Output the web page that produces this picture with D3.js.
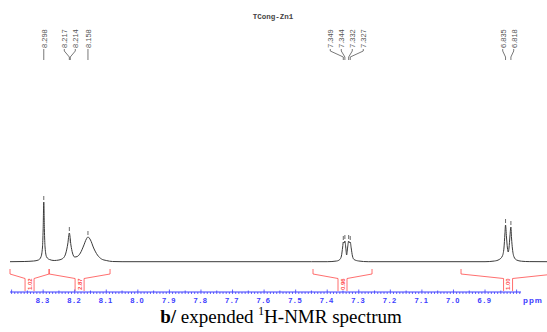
<!DOCTYPE html>
<html><head><meta charset="utf-8">
<script src="https://cdn.jsdelivr.net/npm/d3@7"></script>
<style>
html,body{margin:0;padding:0;background:#fff;}
svg{display:block;}
</style>
</head><body>
<svg id="c" width="547" height="332"></svg>
<script>
// ---------- data ----------
const title = "TCong-Zn1";
// spectrum trace (ppm, intensity)
const specPpm = [8.405,8.36,8.33,8.315,8.307,8.302,8.300,8.298,8.296,8.294,8.289,8.28,8.265,8.25,8.236,8.228,8.222,8.217,8.212,8.207,8.200,8.192,8.182,8.172,8.163,8.158,8.150,8.140,8.128,8.115,8.10,8.08,8.05,
  7.45,7.40,7.37,7.36,7.355,7.351,7.349,7.3465,7.344,7.341,7.3385,7.3355,7.332,7.3295,7.327,7.324,7.320,7.315,7.30,7.27,
  6.90,6.87,6.855,6.845,6.840,6.837,6.835,6.832,6.829,6.8265,6.824,6.821,6.818,6.816,6.813,6.808,6.80,6.785,6.76,6.70];
const specInt = [0.3,0.5,1,2,5,15,32,60,32,15,5,2.5,1.5,2,4,9,18,29,17,9,5,5.5,9,16,23,25,22,14,7,3,1.5,0.5,0.3,
  0.3,0.3,1,2.5,6,15,20,19,21,14,7,14,21,19,20,14,6,2.5,1,0.3,
  0.3,1,2.5,6,14,28,37,25,14,10,14,26,35,24,13,5,2,0.8,0.4,0.3];
// picked peaks
const peakPpm = [8.298,8.217,8.214,8.158,7.349,7.344,7.332,7.327,6.835,6.818];
const peakLabels = ["8.298","8.217","8.214","8.158","7.349","7.344","7.332","7.327","6.835","6.818"];
// integrals
const integralStart = [8.405,8.281,7.445,6.976];
const integralEnd   = [8.281,8.088,7.258,6.678];
const integralValue = ["1.02","2.87","0.96","1.00"];
// axis
const axisDomain = [8.405,6.786];
const tickValues = [8.3,8.2,8.1,8.0,7.9,7.8,7.7,7.6,7.5,7.4,7.3,7.2,7.1,7.0,6.9];
const axisUnit = "ppm";
const caption = {bold:"b/", text:" expended ", sup:"1", rest:"H-NMR spectrum"};

// ---------- drawing ----------
const svg = d3.select("#c");
const x = d3.scaleLinear().domain(axisDomain).range([10,521]);
const y = d3.scaleLinear().domain([0,100]).range([262,162]);

// title
svg.append("text").attr("x",273).attr("y",19).attr("text-anchor","middle")
  .attr("font-family","'Liberation Mono','DejaVu Sans Mono',monospace").attr("font-weight","bold")
  .attr("font-size",7.5).attr("fill","#444").text(title);

// spectrum
const pts = specPpm.map((p,i)=>[p,specInt[i]]);
const line = d3.line().x(d=>x(d[0])).y(d=>y(d[1])).curve(d3.curveMonotoneX);
svg.append("path").attr("d",line(pts)).attr("fill","none")
  .attr("stroke","#3a3a3a").attr("stroke-width",1);

// peak markers above the peaks
function intensityAt(p){
  let best=0, bd=1e9;
  pts.forEach(d=>{const dd=Math.abs(d[0]-p); if(dd<bd){bd=dd;best=d[1];}});
  return best;
}
peakPpm.forEach(p=>{
  const top = y(intensityAt(p));
  svg.append("line").attr("x1",x(p)).attr("x2",x(p)).attr("y1",top-6).attr("y2",top-2)
    .attr("stroke","#444").attr("stroke-width",0.8);
});

// peak labels: spread positions so they don't overlap
const minGap = 11;
let lx = peakPpm.map(p=>x(p));
for(let it=0; it<200; it++){
  for(let i=0;i<lx.length-1;i++){
    const d = lx[i+1]-lx[i];
    if(d<minGap){ const s=(minGap-d)/2; lx[i]-=s; lx[i+1]+=s; }
  }
}
const labG = svg.append("g");
peakPpm.forEach((p,i)=>{
  const px = x(p);
  labG.append("path")
    .attr("d",`M${lx[i]},49 L${lx[i]},51 L${px},57 L${px},60`)
    .attr("fill","none").attr("stroke","#555").attr("stroke-width",0.8);
  labG.append("text")
    .attr("transform",`translate(${lx[i]+0.3},48) rotate(-90)`)
    .attr("dominant-baseline","central")
    .attr("font-family","'Liberation Sans',Arial,sans-serif").attr("font-size",7.5)
    .attr("fill","#555").text(peakLabels[i]);
});

// integral brackets
const red = "#ff4a4a";
const intG = svg.append("g");
integralStart.forEach((s,i)=>{
  const a = x(s), b = x(integralEnd[i]);
  const c = (a+b)/2;
  intG.append("path")
    .attr("d",`M${a},269 L${a},274 L${c-4.5},278.5 M${c+4.5},278.5 L${b},274 L${b},269`)
    .attr("fill","none").attr("stroke",red).attr("stroke-width",0.8);
  intG.append("path")
    .attr("d",`M${c-4.5},278.5 L${c-4.5},291 M${c+4.5},278.5 L${c+4.5},291`)
    .attr("fill","none").attr("stroke",red).attr("stroke-width",0.8);
  intG.append("text")
    .attr("transform",`translate(${c},290) rotate(-90)`)
    .attr("dominant-baseline","central")
    .attr("font-family","'Liberation Sans',Arial,sans-serif").attr("font-size",6)
    .attr("font-weight","bold")
    .attr("fill",red).text(integralValue[i]);
});

// axis
const blue = "#3c3cff";
const axY = 292;
const axG = svg.append("g");
axG.append("line").attr("x1",x(axisDomain[0])).attr("x2",x(axisDomain[1]))
  .attr("y1",axY).attr("y2",axY).attr("stroke",blue).attr("stroke-width",1);
const minor = d3.range(Math.ceil(axisDomain[1]*100), Math.floor(axisDomain[0]*100)+1).map(v=>v/100);
minor.forEach(v=>{
  const isMajor = Math.abs(v*10-Math.round(v*10))<1e-6;
  const isHalf = Math.abs(v*20-Math.round(v*20))<1e-6;
  axG.append("line").attr("x1",x(v)).attr("x2",x(v))
    .attr("y1", isMajor? axY-2.5 : (isHalf? axY-1.5 : axY))
    .attr("y2", axY+2)
    .attr("stroke",blue).attr("stroke-width",0.8);
});
tickValues.forEach(v=>{
  axG.append("text").attr("x",x(v)).attr("y",axY+10.5).attr("text-anchor","middle")
    .attr("font-family","'Liberation Sans',Arial,sans-serif").attr("font-weight","bold")
    .attr("font-size",7.5).attr("letter-spacing",1.5).attr("fill",blue).text(v.toFixed(1));
});
axG.append("text").attr("x",533).attr("y",axY+10.5).attr("text-anchor","middle")
  .attr("font-family","'Liberation Sans',Arial,sans-serif").attr("font-weight","bold")
  .attr("font-size",8).attr("letter-spacing",1).attr("fill",blue).text(axisUnit);

// caption
const cap = svg.append("text").attr("x",281).attr("y",323).attr("text-anchor","middle")
  .attr("font-family","'Liberation Serif','Times New Roman',serif").attr("font-size",19).attr("fill","#000");
cap.append("tspan").attr("font-weight","bold").text(caption.bold);
cap.append("tspan").text(caption.text);
cap.append("tspan").attr("font-size",11.5).attr("dy",-8).text(caption.sup);
cap.append("tspan").attr("dy",8).text(caption.rest);
</script>
</body></html>
